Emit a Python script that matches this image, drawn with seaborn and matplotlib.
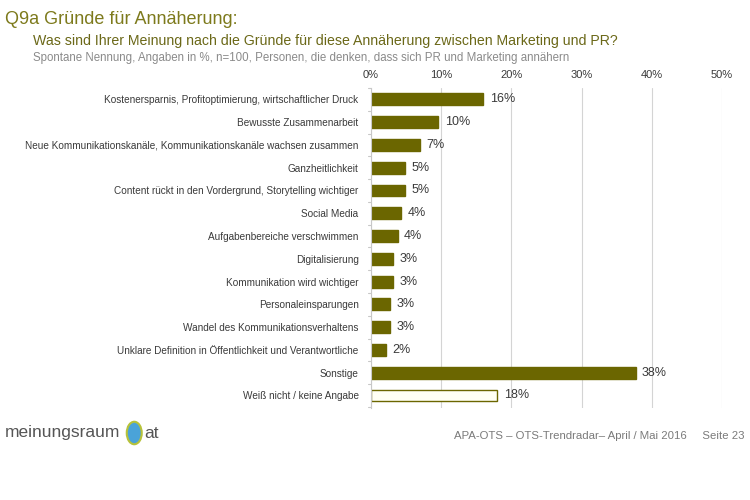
import matplotlib
matplotlib.use("Agg")
import matplotlib.pyplot as plt
import seaborn as sns
import pandas as pd

categories = [
    "Kostenersparnis, Profitoptimierung, wirtschaftlicher Druck",
    "Bewusste Zusammenarbeit",
    "Neue Kommunikationskanäle, Kommunikationskanäle wachsen zusammen",
    "Ganzheitlichkeit",
    "Content rückt in den Vordergrund, Storytelling wichtiger",
    "Social Media",
    "Aufgabenbereiche verschwimmen",
    "Digitalisierung",
    "Kommunikation wird wichtiger",
    "Personaleinsparungen",
    "Wandel des Kommunikationsverhaltens",
    "Unklare Definition in Öffentlichkeit und Verantwortliche",
    "Sonstige",
    "Weiß nicht / keine Angabe",
]
values = [16.0, 9.6, 7.0, 4.8, 4.8, 4.3, 3.8, 3.2, 3.2, 2.7, 2.7, 2.1, 37.7, 18.0]
value_labels = ["16%", "10%", "7%", "5%", "5%", "4%", "4%", "3%", "3%", "3%", "3%", "2%", "38%", "18%"]
x_ticks = [0, 10, 20, 30, 40, 50]
x_tick_labels = ["0%", "10%", "20%", "30%", "40%", "50%"]

olive = "#6b6600"
df = pd.DataFrame({"reason": categories, "pct": values})

sns.set_style("white")
plt.rcParams["font.family"] = ["Liberation Sans", "DejaVu Sans"]

fig = plt.figure(figsize=(7.5, 5), dpi=100)
ax = fig.add_axes([0.4947, 0.184, 0.468, 0.64])

colors = [olive] * (len(categories) - 1) + ["#fffff4"]
sns.barplot(data=df, x="pct", y="reason", hue="reason", palette=colors, saturation=1,
            legend=False, width=0.52, edgecolor=olive, linewidth=1.0, ax=ax)

for i, (v, lab) in enumerate(zip(values, value_labels)):
    ax.text(v + 0.9, i, lab, va="center", ha="left", fontsize=9, color="#3a3a3a")

ax.set_xlim(0, 50)
ax.set_ylim(len(categories) - 0.45, -0.5)
ax.set_xticks(x_ticks)
ax.set_xticklabels(x_tick_labels, fontsize=8, color="#3a3a3a")
ax.xaxis.tick_top()
ax.tick_params(axis="x", length=0, pad=6)
ax.tick_params(axis="y", length=0, pad=9, labelsize=7.2, labelcolor="#3a3a3a")
ax.set_xlabel("")
ax.set_ylabel("")
ax.xaxis.grid(True, color="#d4d4d4", linewidth=0.8)
ax.set_axisbelow(True)
for s in ["top", "right", "bottom"]:
    ax.spines[s].set_visible(False)
ax.spines["left"].set_color("#c8c8c8")
ax.spines["left"].set_linewidth(0.8)
# small separator ticks between rows
for k in range(len(categories) + 1):
    ax.plot([-0.4, 0], [k - 0.5, k - 0.5], color="#c8c8c8", lw=0.8, clip_on=False)

fig.text(0.007, 0.962, "Q9a Gründe für Annäherung:", fontsize=13, color="#7d7a1c", va="center")
fig.text(0.044, 0.918, "Was sind Ihrer Meinung nach die Gründe für diese Annäherung zwischen Marketing und PR?",
         fontsize=10.2, color="#6b6818", va="center")
fig.text(0.044, 0.884, "Spontane Nennung, Angaben in %, n=100, Personen, die denken, dass sich PR und Marketing annähern",
         fontsize=8.3, color="#8a8a8a", va="center")

fig.text(0.007, 0.134, "meinungsraum", fontsize=12.5, color="#555555", va="center")
fig.patches.append(matplotlib.patches.Ellipse((0.179, 0.134), 0.02, 0.045, transform=fig.transFigure,
                                              facecolor="#4aa3d8", edgecolor="#b7c23a", lw=1.5))
fig.text(0.192, 0.134, "at", fontsize=12.5, color="#555555", va="center")
fig.text(0.606, 0.128, "APA-OTS – OTS-Trendradar– April / Mai 2016     Seite 23",
         fontsize=8.2, color="#7a7a7a", va="center")

fig.savefig("out.png", dpi=100)
